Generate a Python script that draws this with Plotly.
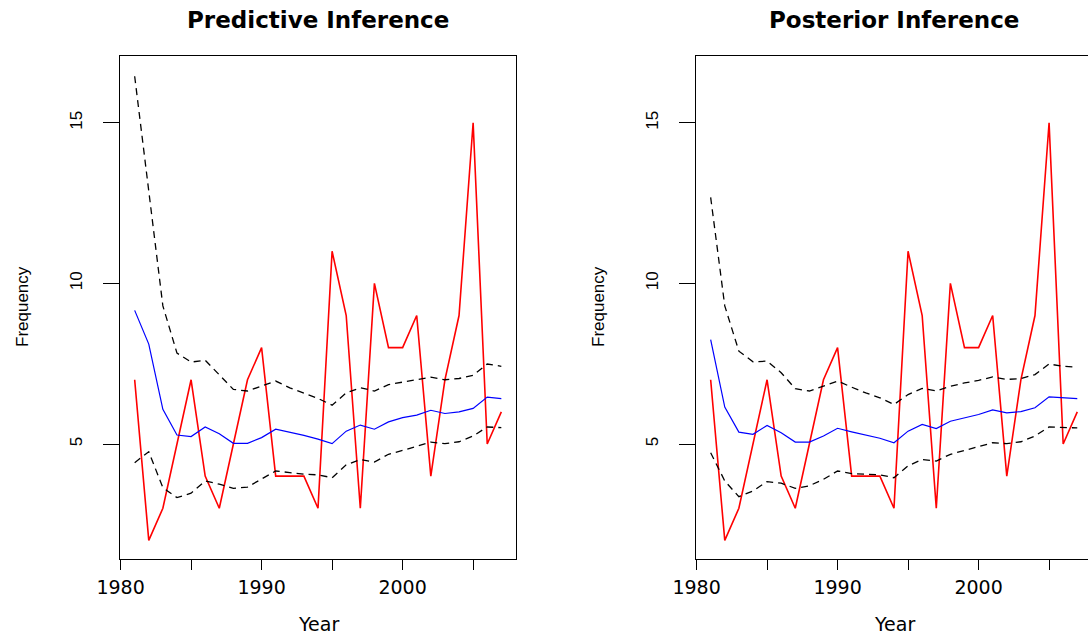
import plotly.graph_objects as go

W, H = 1088, 634

years = list(range(1981, 2008))
observed = [7, 2, 3, 5, 7, 4, 3, 5, 7, 8, 4, 4, 4, 3, 11, 9, 3, 10, 8, 8, 9, 4, 7, 9, 15, 5, 6]

pred_mean = [9.16, 8.11, 6.08, 5.28, 5.23, 5.53, 5.32, 5.02, 5.02, 5.20, 5.46, 5.37, 5.27, 5.15,
             5.01, 5.40, 5.59, 5.46, 5.69, 5.82, 5.90, 6.05, 5.95, 6.00, 6.11, 6.46, 6.41]
pred_upper = [16.45, 12.9, 9.3, 7.83, 7.55, 7.61, 7.17, 6.70, 6.65, 6.80, 6.96, 6.75, 6.59, 6.42,
              6.21, 6.59, 6.75, 6.65, 6.85, 6.93, 7.01, 7.08, 7.00, 7.04, 7.14, 7.49, 7.42]
pred_lower = [4.42, 4.76, 3.64, 3.33, 3.47, 3.85, 3.75, 3.62, 3.66, 3.90, 4.16, 4.11, 4.06, 4.04,
              3.95, 4.35, 4.52, 4.44, 4.68, 4.80, 4.92, 5.06, 5.01, 5.07, 5.25, 5.53, 5.51]

post_mean = [8.25, 6.15, 5.37, 5.30, 5.58, 5.35, 5.06, 5.06, 5.25, 5.49, 5.38, 5.27, 5.18, 5.04,
             5.40, 5.61, 5.48, 5.71, 5.82, 5.92, 6.06, 5.97, 6.01, 6.13, 6.47, 6.43, 6.41]
post_upper = [12.68, 9.3, 7.89, 7.56, 7.58, 7.22, 6.72, 6.65, 6.80, 6.96, 6.77, 6.59, 6.44, 6.23,
              6.54, 6.73, 6.65, 6.80, 6.90, 6.98, 7.09, 7.01, 7.04, 7.16, 7.49, 7.42, 7.39]
post_lower = [4.73, 3.85, 3.36, 3.54, 3.83, 3.78, 3.62, 3.70, 3.90, 4.16, 4.08, 4.06, 4.04, 3.95,
              4.32, 4.52, 4.47, 4.68, 4.81, 4.92, 5.04, 5.01, 5.07, 5.25, 5.53, 5.51, 5.50]

x_tickvals = [1980, 1985, 1990, 1995, 2000, 2005]
x_ticktext = ["1980", "", "1990", "", "2000", ""]
y_tickvals = [5, 10, 15]
y_ticktext = ["5", "10", "15"]
titles = ["Predictive Inference", "Posterior Inference"]

fig = go.Figure()

panels = [
    ("x", "y", pred_mean, pred_upper, pred_lower),
    ("x2", "y2", post_mean, post_upper, post_lower),
]
for xa, ya, mean, upper, lower in panels:
    fig.add_trace(go.Scatter(x=years, y=observed, mode="lines", xaxis=xa, yaxis=ya,
                             line=dict(color="#ff0000", width=1.6), showlegend=False))
    fig.add_trace(go.Scatter(x=years, y=mean, mode="lines", xaxis=xa, yaxis=ya,
                             line=dict(color="#0000ff", width=1.2), showlegend=False))
    for band in (upper, lower):
        fig.add_trace(go.Scatter(x=years, y=band, mode="lines", xaxis=xa, yaxis=ya,
                                 line=dict(color="black", width=1.3, dash="7px,5px"),
                                 showlegend=False))

ydom = [1 - 559 / H, 1 - 56 / H]
xfont = dict(family="DejaVu Sans", size=19, color="black")
yfont = dict(family="Liberation Sans", size=17, color="black")

common_x = dict(tickmode="array", tickvals=x_tickvals, ticktext=x_ticktext,
                ticks="outside", ticklen=10, tickwidth=1, tickcolor="black",
                showline=True, linecolor="black", linewidth=1, automargin=False,
                showgrid=False, zeroline=False, tickfont=xfont, ticklabelstandoff=1)
common_y = dict(tickmode="array", tickvals=y_tickvals, ticktext=y_ticktext,
                ticks="outside", ticklen=16, tickwidth=1, tickcolor="black",
                showline=True, linecolor="black", linewidth=1, automargin=False,
                showgrid=False, zeroline=False, tickfont=yfont, tickangle=-90,
                range=[1.42, 17.08], ticklabelstandoff=14)

fig.update_layout(
    width=W, height=H,
    margin=dict(l=0, r=0, t=0, b=0, autoexpand=False),
    plot_bgcolor="white", paper_bgcolor="white",
    xaxis=dict(domain=[120 / W, 516 / W], range=[1979.96, 2008.04], mirror=True,
               anchor="y", **common_x),
    yaxis=dict(domain=ydom, mirror=True, anchor="x", **common_y),
    xaxis2=dict(domain=[696 / W, 1.0], range=[1979.96, 2007.76], mirror=True,
                anchor="y2", **common_x),
    yaxis2=dict(domain=ydom, mirror=False, anchor="x2", **common_y),
)

ann = []
centers = [318 / W, 894 / W]
for cx, t in zip(centers, titles):
    ann.append(dict(text="<b>%s</b>" % t, x=cx, y=1 - 19.5 / H, xref="paper", yref="paper",
                    showarrow=False, xanchor="center", yanchor="middle",
                    font=dict(family="DejaVu Sans", size=23, color="black")))
    ann.append(dict(text="Year", x=cx, y=1 - 624 / H, xref="paper", yref="paper",
                    showarrow=False, xanchor="center", yanchor="middle",
                    font=dict(family="DejaVu Sans", size=19, color="black")))
for fx in [22 / W, 598 / W]:
    ann.append(dict(text="Frequency", x=fx, y=1 - 307 / H, xref="paper", yref="paper",
                    showarrow=False, xanchor="center", yanchor="middle", textangle=-90,
                    font=dict(family="Liberation Sans", size=17, color="black")))
fig.update_layout(annotations=ann)

fig.write_html("out.html")
